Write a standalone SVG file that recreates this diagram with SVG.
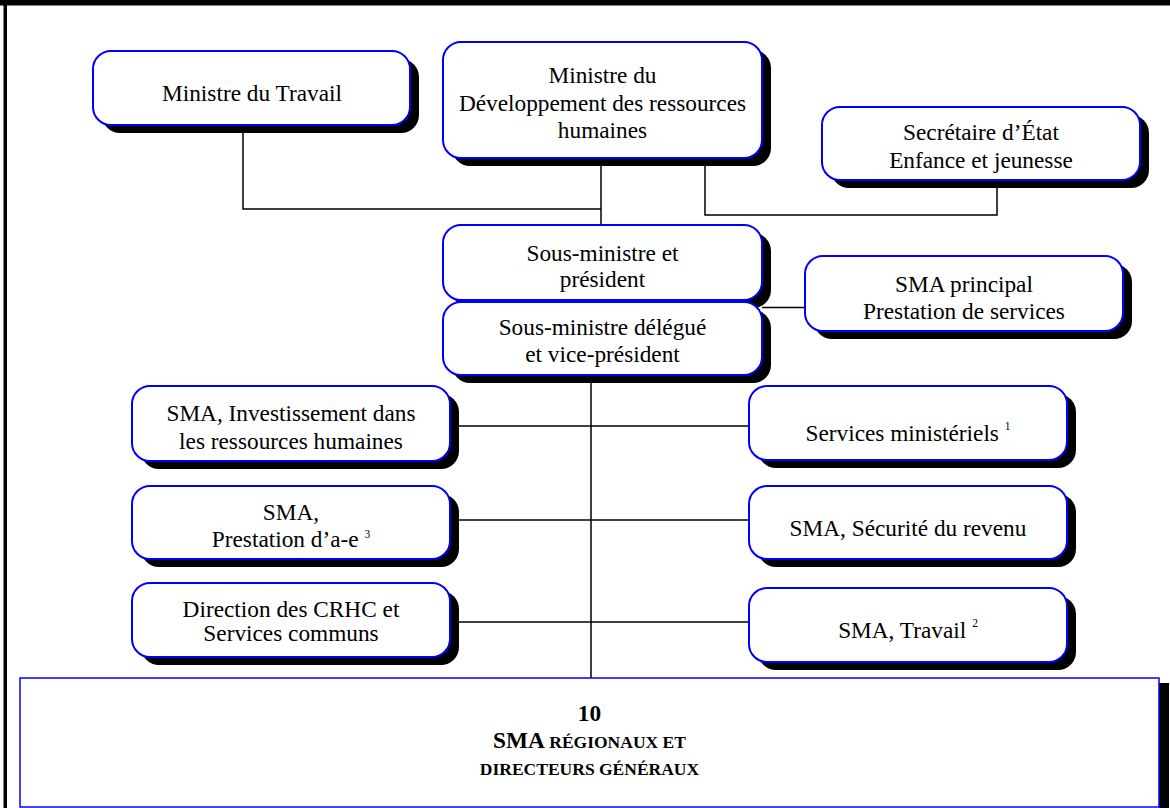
<svg xmlns="http://www.w3.org/2000/svg" width="1170" height="808" viewBox="0 0 1170 808">
<style>
.box{fill:#ffffff;stroke:#0000ff;stroke-width:2}
.sh{fill:#000000}
.ln{stroke:#000000;stroke-width:1.5;fill:none}
.t{font-family:"Liberation Serif","Times New Roman",serif;font-size:23.3px;fill:#000000;text-anchor:middle}
.b{font-family:"Liberation Serif","Times New Roman",serif;font-weight:bold;fill:#000000;text-anchor:middle}
.sup{font-size:11.5px}
</style>
<rect x="0" y="0" width="1170" height="808" fill="#ffffff"/>
<rect x="0" y="0" width="1170" height="5.5" fill="#000000"/>
<rect x="3.5" y="0" width="3.5" height="808" fill="#000000"/>
<g id="connectors">
<polyline class="ln" points="243,125 243,209 601,209"/>
<line class="ln" x1="601" y1="158" x2="601" y2="226"/>
<polyline class="ln" points="705,158 705,215 997,215 997,180"/>
<line class="ln" x1="762" y1="307.5" x2="806" y2="307.5"/>
<line class="ln" x1="591" y1="375" x2="591" y2="679"/>
<line class="ln" x1="450" y1="426" x2="750" y2="426"/>
<line class="ln" x1="450" y1="520" x2="750" y2="520"/>
<line class="ln" x1="450" y1="622" x2="750" y2="622"/>
</g>
<g id="n-travail">
<rect class="sh" x="102" y="59" width="317" height="74" rx="18"/>
<rect class="box" x="93" y="51" width="317" height="74" rx="18"/>
<text class="t" x="252" y="101">Ministre du Travail</text>
</g>
<g id="n-mdrh">
<rect class="sh" x="452" y="50" width="319" height="116" rx="18"/>
<rect class="box" x="443" y="42" width="319" height="116" rx="18"/>
<text class="t" x="602.5" y="83">Ministre du</text>
<text class="t" x="602.5" y="111">Développement des ressources</text>
<text class="t" x="602.5" y="138">humaines</text>
</g>
<g id="n-secretaire">
<rect class="sh" x="831" y="115" width="318" height="73" rx="18"/>
<rect class="box" x="822" y="107" width="318" height="73" rx="18"/>
<text class="t" x="981" y="140">Secrétaire d’État</text>
<text class="t" x="981" y="168">Enfance et jeunesse</text>
</g>
<g id="n-sousministre">
<rect class="sh" x="452" y="233" width="319" height="75" rx="18"/>
<rect class="box" x="443" y="225" width="319" height="75" rx="18"/>
<text class="t" x="602.5" y="261">Sous-ministre et</text>
<text class="t" x="602.5" y="287">président</text>
</g>
<g id="n-delegue">
<rect class="sh" x="452" y="310" width="319" height="73" rx="18"/>
<rect class="box" x="443" y="302" width="319" height="73" rx="18"/>
<text class="t" x="602.5" y="335">Sous-ministre délégué</text>
<text class="t" x="602.5" y="362">et vice-président</text>
</g>
<g id="n-smaprincipal">
<rect class="sh" x="814" y="264" width="318" height="75" rx="18"/>
<rect class="box" x="805" y="256" width="318" height="75" rx="18"/>
<text class="t" x="964" y="292">SMA principal</text>
<text class="t" x="964" y="319">Prestation de services</text>
</g>
<g id="n-invest">
<rect class="sh" x="141" y="394" width="318" height="75" rx="18"/>
<rect class="box" x="132" y="386" width="318" height="75" rx="18"/>
<text class="t" x="291" y="421">SMA, Investissement dans</text>
<text class="t" x="291" y="449">les ressources humaines</text>
</g>
<g id="n-prestation">
<rect class="sh" x="141" y="494" width="318" height="73" rx="18"/>
<rect class="box" x="132" y="486" width="318" height="73" rx="18"/>
<text class="t" x="291" y="520">SMA,</text>
<text class="t" x="291" y="547">Prestation d’a-e <tspan class="sup" dy="-9">3</tspan></text>
</g>
<g id="n-direction">
<rect class="sh" x="141" y="591" width="318" height="74" rx="18"/>
<rect class="box" x="132" y="583" width="318" height="74" rx="18"/>
<text class="t" x="291" y="617">Direction des CRHC et</text>
<text class="t" x="291" y="641">Services communs</text>
</g>
<g id="n-services">
<rect class="sh" x="758" y="394" width="318" height="74" rx="18"/>
<rect class="box" x="749" y="386" width="318" height="74" rx="18"/>
<text class="t" x="908" y="441">Services ministériels <tspan class="sup" dy="-11">1</tspan></text>
</g>
<g id="n-securite">
<rect class="sh" x="758" y="494" width="318" height="73" rx="18"/>
<rect class="box" x="749" y="486" width="318" height="73" rx="18"/>
<text class="t" x="908" y="536">SMA, Sécurité du revenu</text>
</g>
<g id="n-smatravail">
<rect class="sh" x="758" y="596" width="318" height="74" rx="18"/>
<rect class="box" x="749" y="588" width="318" height="74" rx="18"/>
<text class="t" x="908" y="638">SMA, Travail <tspan class="sup" dy="-11">2</tspan></text>
</g>
<g id="n-regionaux">
<rect class="sh" x="1159" y="683" width="10" height="125"/>
<rect x="20" y="678" width="1139" height="129" fill="#ffffff" stroke="#0000ff" stroke-width="1.5"/>
<text class="b" x="589.5" y="721" font-size="23.3">10</text>
<text class="b" x="589.5" y="748"><tspan font-size="23.3">SMA</tspan><tspan font-size="17.5"> RÉGIONAUX ET</tspan></text>
<text class="b" x="589.5" y="775" font-size="17.5">DIRECTEURS GÉNÉRAUX</text>
</g>
</svg>
